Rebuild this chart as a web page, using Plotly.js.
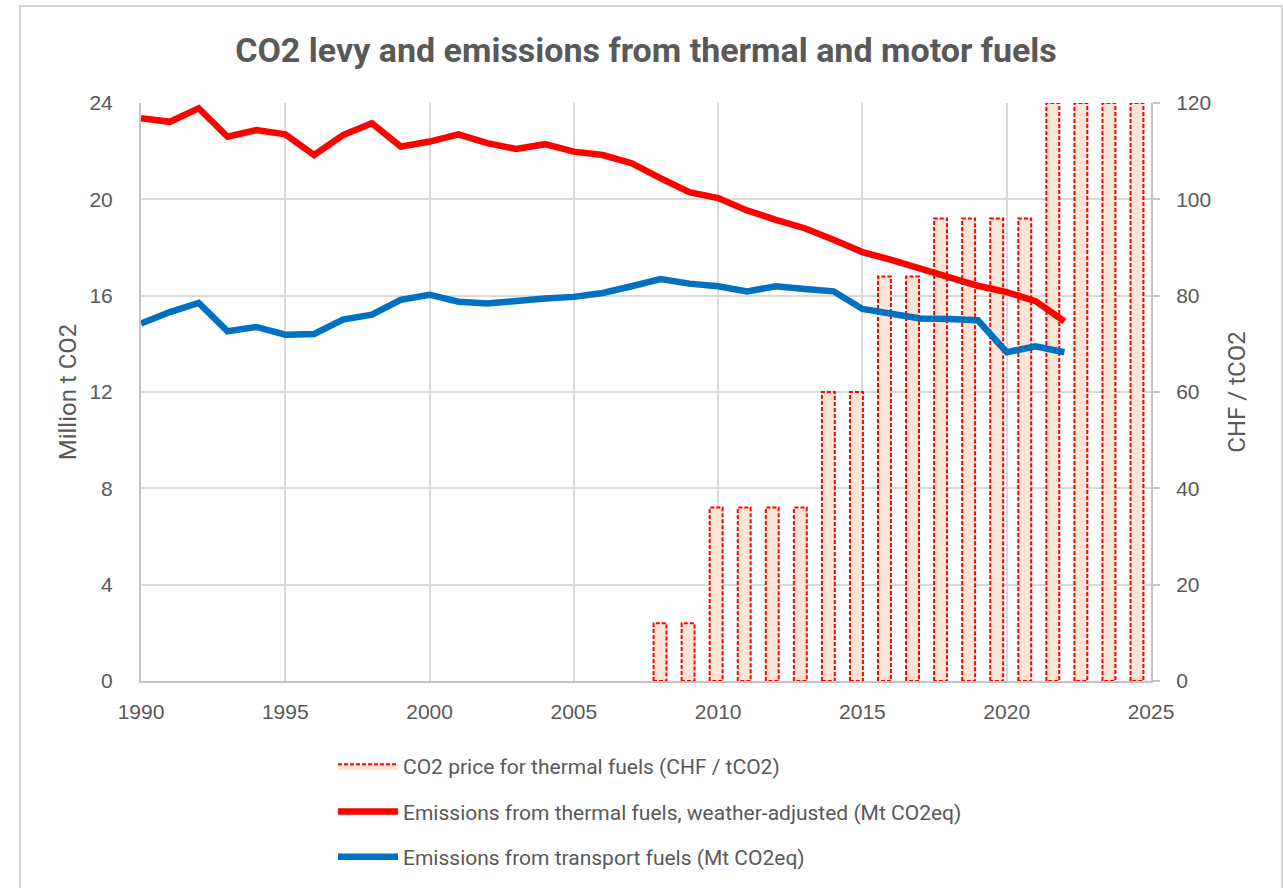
<!DOCTYPE html>
<html>
<head>
<meta charset="utf-8">
<script src="https://cdn.plot.ly/plotly-3.0.1.min.js"></script>
<style>
  html, body { margin: 0; padding: 0; background: #ffffff; }
  #chart { width: 1283px; height: 888px; }
  #frame { position: absolute; left: 19px; top: 5px; width: 1260px; height: 900px;
           border-left: 2px solid #d4d4d4; border-top: 2px solid #d4d4d4; border-right: 2px solid #d4d4d4;
           pointer-events: none; }
</style>
</head>
<body>
<div id="chart"></div>
<div id="frame"></div>
<script>
// ---- data ----
const years = [1990,1991,1992,1993,1994,1995,1996,1997,1998,1999,2000,2001,2002,2003,2004,2005,2006,2007,2008,2009,2010,2011,2012,2013,2014,2015,2016,2017,2018,2019,2020,2021,2022];
const thermalEmissions = [23.37,23.22,23.78,22.60,22.88,22.70,21.84,22.67,23.16,22.19,22.40,22.70,22.33,22.09,22.29,21.98,21.84,21.50,20.88,20.30,20.05,19.54,19.15,18.80,18.32,17.81,17.49,17.15,16.77,16.41,16.15,15.77,14.93];
const transportEmissions = [14.84,15.32,15.70,14.52,14.70,14.38,14.41,15.01,15.21,15.83,16.04,15.75,15.68,15.81,15.88,15.95,16.11,16.39,16.69,16.50,16.39,16.18,16.39,16.28,16.18,15.45,15.28,15.05,15.03,14.98,13.65,13.90,13.65];
const priceYears = [2008,2009,2010,2011,2012,2013,2014,2015,2016,2017,2018,2019,2020,2021,2022,2023,2024,2025];
const co2Price = [12,12,36,36,36,36,60,60,84,84,96,96,96,96,120,120,120,120];

const names = {
  price: 'CO2 price for thermal fuels (CHF / tCO2)',
  thermal: 'Emissions from thermal fuels, weather-adjusted (Mt CO2eq)',
  transport: 'Emissions from transport fuels (Mt CO2eq)'
};

// ---- bar outline (dashed) built from the price data ----
const barW = 0.46;
const ox = [], oy = [];
priceYears.forEach((yr, i) => {
  const v = co2Price[i];
  ox.push(yr - barW/2, yr - barW/2, yr + barW/2, yr + barW/2, yr - barW/2, null);
  oy.push(0, v, v, 0, 0, null);
});

const FILL = '#fbe5d6';
const TXT = '#595959';
const NARROW = 'Roboto, "Liberation Sans", sans-serif';
const REG = '"Liberation Sans", Arial, sans-serif';

const traces = [
  {
    type: 'bar', x: priceYears, y: co2Price, xaxis: 'x', yaxis: 'y',
    width: barW, marker: { color: FILL, line: { width: 0 } },
    showlegend: false, hoverinfo: 'skip', name: names.price
  },
  {
    type: 'scatter', mode: 'lines', x: ox, y: oy, xaxis: 'x', yaxis: 'y',
    fill: 'toself', fillcolor: FILL, connectgaps: false,
    line: { color: '#ff0000', width: 2, dash: '4px,2px' },
    name: names.price, legendgroup: 'a', legendrank: 1
  },
  {
    type: 'scatter', mode: 'lines', x: years, y: thermalEmissions, xaxis: 'x2', yaxis: 'y2',
    line: { color: '#ff0000', width: 6.5 },
    name: names.thermal, legendgroup: 'b', legendrank: 2
  },
  {
    type: 'scatter', mode: 'lines', x: years, y: transportEmissions, xaxis: 'x2', yaxis: 'y2',
    line: { color: '#0070c0', width: 6.5 },
    name: names.transport, legendgroup: 'c', legendrank: 3
  }
];

const layout = {
  width: 1283, height: 888,
  paper_bgcolor: '#ffffff', plot_bgcolor: '#ffffff',
  margin: { l: 141, r: 132, t: 103, b: 206 },
  font: { family: REG, color: TXT, size: 16 },
  title: {
    text: '<b>CO2 levy and emissions from thermal and motor fuels</b>',
    font: { family: NARROW, size: 34, color: TXT },
    x: 0.5, xref: 'paper', xanchor: 'center',
    y: 1 - 50/888, yref: 'container', yanchor: 'middle'
  },
  showlegend: true,
  legend: {
    x: (333 - 141) / 1010, xanchor: 'left',
    y: -(746 - 682) / 579, yanchor: 'top',
    orientation: 'v',
    font: { family: NARROW, size: 21, color: TXT },
    tracegroupgap: 15,
    itemwidth: 60,
    bgcolor: 'rgba(0,0,0,0)'
  },
  barmode: 'overlay',
  xaxis: {
    range: [1989.5, 2025.5], visible: false, fixedrange: true
  },
  yaxis: {
    side: 'right', range: [0, 120], dtick: 20, tick0: 0,
    showgrid: false, zeroline: false,
    showline: true, linecolor: '#c4c4c4', linewidth: 2,
    ticks: 'outside', ticklen: 7, tickcolor: '#c4c4c4', tickwidth: 2,
    ticklabelstandoff: 12,
    tickfont: { family: REG, size: 21, color: TXT },
    title: { text: 'CHF / tCO2', font: { family: NARROW, size: 24, color: TXT }, standoff: 18 }
  },
  xaxis2: {
    overlaying: 'x', anchor: 'y2', side: 'bottom',
    range: [1990, 2025], dtick: 5, tick0: 1990,
    showgrid: true, gridcolor: '#d9d9d9', gridwidth: 2,
    zeroline: false, showline: true, linecolor: '#c4c4c4', linewidth: 2,
    ticks: '', ticklabelstandoff: 11,
    tickfont: { family: REG, size: 21, color: TXT }
  },
  yaxis2: {
    overlaying: 'y', anchor: 'x2', side: 'left',
    range: [0, 24], dtick: 4, tick0: 0,
    showgrid: true, gridcolor: '#d9d9d9', gridwidth: 2,
    zeroline: false, showline: true, linecolor: '#c4c4c4', linewidth: 2,
    ticks: '', ticklabelstandoff: 22,
    tickfont: { family: REG, size: 21, color: TXT },
    title: { text: 'Million t CO2', font: { family: NARROW, size: 24, color: TXT }, standoff: 6 }
  }
};

Plotly.newPlot('chart', traces, layout, { displayModeBar: false, staticPlot: true });
</script>
</body>
</html>
